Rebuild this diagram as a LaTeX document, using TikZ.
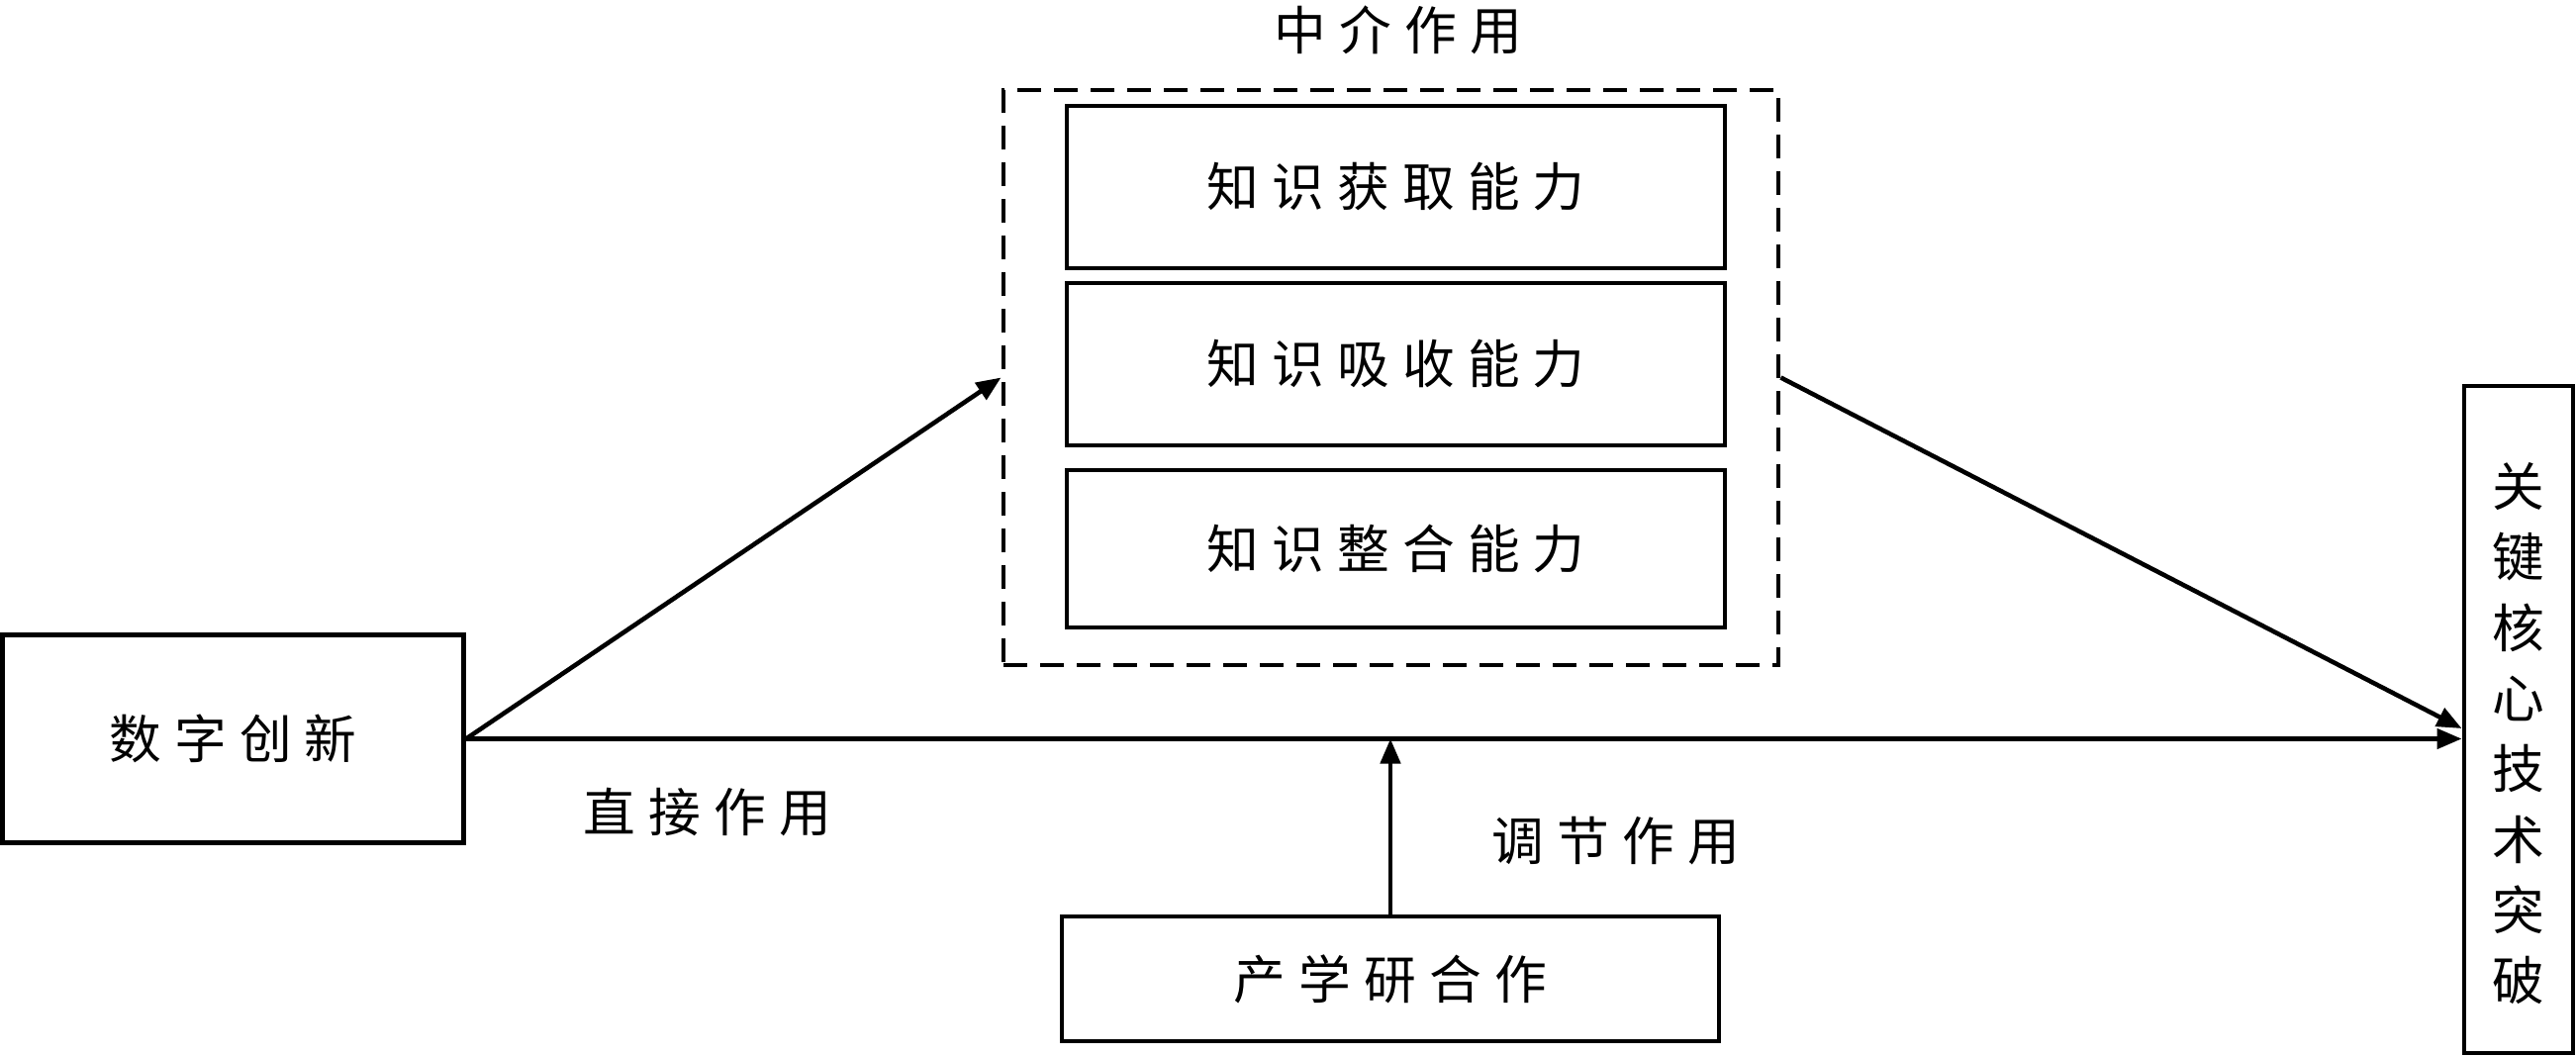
\documentclass[tikz,border=0pt]{standalone}
\usepackage{fontspec}
\newfontfamily\cjk[LetterSpace=25]{Noto Sans CJK SC}
\newfontfamily\cjkv{Noto Sans CJK SC}
\usetikzlibrary{arrows.meta, positioning, calc}

\begin{document}
\begin{tikzpicture}[>={Triangle[length=0.25cm, width=0.2cm]},
  box/.style={draw, line width=1.4pt, inner sep=0pt,
    font=\cjk\fontsize{15pt}{20.3pt}\selectfont},
  lbl/.style={font=\cjk\fontsize{15pt}{20.3pt}\selectfont},
  link/.style={->, line width=1.3pt}]

  \useasboundingbox (0,0) rectangle (26.03,10.67);

  % --- independent variable ---
  \node[box, minimum width=4.66cm, minimum height=2.10cm]
    (digi) at (2.355,3.205) {数字创新};

  % --- mediators in dashed frame ---
  \node[draw, line width=1.4pt, dash pattern=on 0.24cm off 0.13cm,
    minimum width=7.83cm, minimum height=5.81cm]
    (med) at (14.055,6.855) {};
  \node[lbl] (medlbl) at (14.13,10.37) {中介作用};
  \node[box, minimum width=6.65cm, minimum height=1.64cm]
    (acq) at (14.105,8.78) {知识获取能力};
  \node[box, minimum width=6.65cm, minimum height=1.64cm]
    (abs) at (14.105,6.99) {知识吸收能力};
  \node[box, minimum width=6.65cm, minimum height=1.59cm]
    (integ) at (14.105,5.125) {知识整合能力};

  % --- outcome (vertical text) ---
  \node[box, font=\cjkv\fontsize{15pt}{20.3pt}\selectfont,
    minimum width=1.10cm, minimum height=6.74cm] (tech) at (25.45,3.40)
    {\raisebox{-0.2cm}[\height][\depth]{\begin{tabular}{@{}c@{}}
      关\\键\\核\\心\\技\\术\\突\\破\end{tabular}}};

  % --- moderator ---
  \node[box, minimum width=6.64cm, minimum height=1.26cm]
    (coop) at (14.05,0.78) {产学研合作};

  % --- path labels ---
  \node[lbl] (direct) at (7.15,2.46) {直接作用};
  \node[lbl] (moder) at (16.33,2.17) {调节作用};

  % --- arrows ---
  \draw[link] (digi.east) -- (med.west);
  \draw[link] (med.east) -- ($(tech.west)+(0,-0.09)$);
  \draw[link] (digi.east) -- (digi.east -| tech.west);
  \draw[link] (coop.north) -- (coop.north |- digi.east);

\end{tikzpicture}
\end{document}
